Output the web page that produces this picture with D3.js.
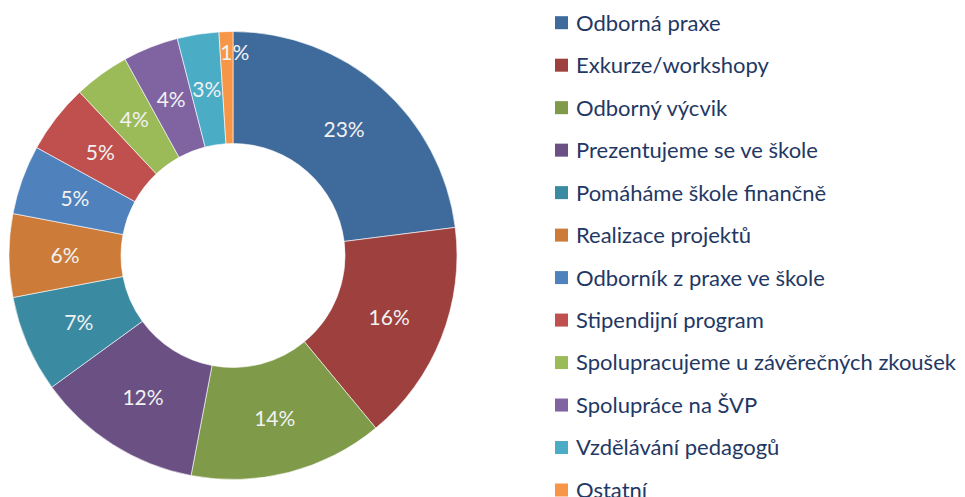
<!DOCTYPE html>
<html>
<head>
<meta charset="utf-8">
<script src="https://cdn.jsdelivr.net/npm/d3@7"></script>
<style>
html,body{margin:0;padding:0;background:#fff;}
svg{display:block;}
</style>
</head>
<body>
<svg id="chart" width="965" height="497"></svg>
<script>
const categories = ["Odborná praxe","Exkurze/workshopy","Odborný výcvik","Prezentujeme se ve škole","Pomáháme škole finančně","Realizace projektů","Odborník z praxe ve škole","Stipendijní program","Spolupracujeme u závěrečných zkoušek","Spolupráce na ŠVP","Vzdělávání pedagogů","Ostatní"];
const values = [23,16,14,12,7,6,5,5,4,4,3,1];
const labels = ["23%","16%","14%","12%","7%","6%","5%","5%","4%","4%","3%","1%"];
const colors = ["#3F6A9C","#9E413E","#7F9A48","#6A5083","#3A8BA2","#CC7B38","#4F81BD","#C0504D","#9BBB59","#8064A2","#4BACC6","#F79646"];

const svg = d3.select("#chart");
const cx = 233, cy = 255.5, rOut = 224, rIn = 112;
const pie = d3.pie().sort(null).value(d => d)(values);
const arc = d3.arc().innerRadius(rIn).outerRadius(rOut);
const labelArc = d3.arc().innerRadius((rIn+rOut)/2).outerRadius((rIn+rOut)/2);
const color = d3.scaleOrdinal().domain(categories).range(colors);

const g = svg.append("g").attr("transform", `translate(${cx},${cy})`);
g.selectAll("path").data(pie).join("path")
  .attr("d", arc)
  .attr("fill", (d,i) => color(categories[i]))
  .attr("stroke", "#ffffff").attr("stroke-width", 0.6);

const rSmall = rOut - 21;
function labelPos(d) {
  if (d.value < 2) {
    const a = d.startAngle;
    return [rSmall * Math.sin(a), -rSmall * Math.cos(a)];
  }
  return labelArc.centroid(d);
}
g.selectAll("text").data(pie).join("text")
  .attr("transform", d => `translate(${labelPos(d)})`)
  .attr("text-anchor", d => d.value < 2 ? "start" : "middle")
  .attr("dy", "0.36em")
  .attr("fill", "#F2F2F2")
  .style("font-family", "Lato, 'Open Sans', sans-serif")
  .style("font-size", "21px")
  .text((d,i) => labels[i]);

const ly = d3.scalePoint().domain(categories).range([22.7, 490]);
const leg = svg.append("g");
const items = leg.selectAll("g").data(categories).join("g")
  .attr("transform", d => `translate(555,${ly(d)})`);
items.append("rect").attr("x", 0).attr("y", -6.5).attr("width", 13).attr("height", 13)
  .attr("fill", d => color(d));
items.append("text").attr("x", 21).attr("dy", "0.36em")
  .attr("fill", "#1F3864")
  .style("font-family", "Lato, 'Open Sans', sans-serif")
  .style("font-size", "22px")
  .text(d => d);
</script>
</body>
</html>
